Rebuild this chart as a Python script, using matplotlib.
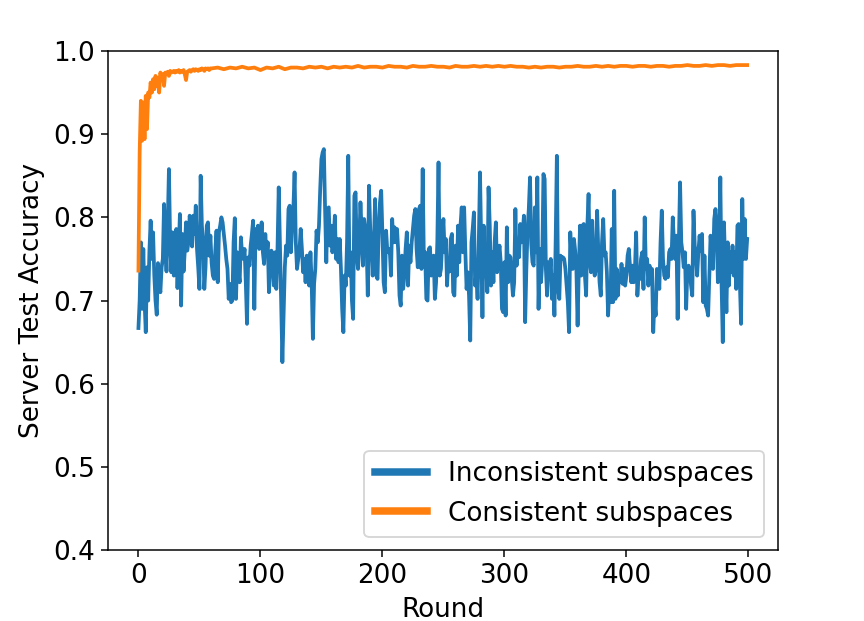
import matplotlib
matplotlib.use("Agg")
import matplotlib.pyplot as plt

# server test accuracy per round
inconsistent_acc = [
    0.667, 0.700, 0.770, 0.690, 0.762, 0.700, 0.662, 0.740, 0.700, 0.760,
    0.796, 0.750, 0.782, 0.730, 0.700, 0.683, 0.745, 0.720, 0.710, 0.740,
    0.750, 0.816, 0.770, 0.735, 0.790, 0.858, 0.770, 0.734, 0.782, 0.730,
    0.760, 0.786, 0.715, 0.760, 0.804, 0.694, 0.780, 0.735, 0.760, 0.794,
    0.760, 0.770, 0.802, 0.790, 0.765, 0.802, 0.780, 0.814, 0.762, 0.740,
    0.714, 0.850, 0.790, 0.770, 0.714, 0.740, 0.790, 0.794, 0.754, 0.778,
    0.745, 0.730, 0.726, 0.760, 0.784, 0.722, 0.782, 0.790, 0.800, 0.794,
    0.780, 0.766, 0.750, 0.738, 0.702, 0.720, 0.698, 0.700, 0.770, 0.799,
    0.702, 0.758, 0.735, 0.722, 0.776, 0.755, 0.750, 0.762, 0.722, 0.672,
    0.752, 0.742, 0.766, 0.780, 0.796, 0.690, 0.786, 0.770, 0.790, 0.762,
    0.766, 0.794, 0.758, 0.744, 0.780, 0.755, 0.770, 0.710, 0.738, 0.760,
    0.754, 0.718, 0.758, 0.714, 0.762, 0.836, 0.770, 0.698, 0.626, 0.682,
    0.740, 0.766, 0.754, 0.810, 0.814, 0.758, 0.790, 0.810, 0.854, 0.770,
    0.738, 0.750, 0.760, 0.786, 0.762, 0.734, 0.750, 0.722, 0.754, 0.740,
    0.718, 0.758, 0.722, 0.654, 0.720, 0.738, 0.784, 0.770, 0.790, 0.834,
    0.870, 0.878, 0.882, 0.810, 0.746, 0.810, 0.812, 0.766, 0.790, 0.758,
    0.774, 0.802, 0.750, 0.774, 0.746, 0.774, 0.738, 0.690, 0.662, 0.730,
    0.718, 0.770, 0.874, 0.730, 0.758, 0.700, 0.678, 0.826, 0.830, 0.754,
    0.738, 0.770, 0.818, 0.782, 0.742, 0.798, 0.786, 0.770, 0.706, 0.838,
    0.786, 0.760, 0.730, 0.770, 0.822, 0.730, 0.726, 0.790, 0.818, 0.832,
    0.780, 0.722, 0.710, 0.784, 0.760, 0.758, 0.762, 0.730, 0.798, 0.770,
    0.788, 0.770, 0.786, 0.758, 0.706, 0.694, 0.754, 0.714, 0.730, 0.762,
    0.782, 0.718, 0.766, 0.746, 0.770, 0.786, 0.802, 0.810, 0.762, 0.740,
    0.810, 0.814, 0.738, 0.858, 0.746, 0.758, 0.702, 0.700, 0.762, 0.764,
    0.730, 0.738, 0.754, 0.702, 0.722, 0.770, 0.866, 0.730, 0.738, 0.770,
    0.798, 0.758, 0.774, 0.718, 0.750, 0.735, 0.774, 0.780, 0.710, 0.706,
    0.766, 0.730, 0.790, 0.746, 0.790, 0.812, 0.758, 0.812, 0.758, 0.714,
    0.734, 0.706, 0.652, 0.770, 0.786, 0.806, 0.718, 0.734, 0.702, 0.770,
    0.854, 0.770, 0.680, 0.790, 0.738, 0.746, 0.710, 0.836, 0.790, 0.718,
    0.758, 0.722, 0.770, 0.794, 0.734, 0.754, 0.766, 0.746, 0.690, 0.686,
    0.746, 0.682, 0.788, 0.722, 0.754, 0.752, 0.726, 0.706, 0.722, 0.810,
    0.742, 0.770, 0.752, 0.792, 0.770, 0.780, 0.802, 0.674, 0.738, 0.786,
    0.810, 0.848, 0.768, 0.746, 0.742, 0.812, 0.758, 0.848, 0.690, 0.762,
    0.722, 0.746, 0.852, 0.846, 0.738, 0.706, 0.746, 0.730, 0.750, 0.702,
    0.730, 0.682, 0.770, 0.874, 0.714, 0.702, 0.754, 0.750, 0.752, 0.750,
    0.738, 0.718, 0.698, 0.662, 0.782, 0.750, 0.738, 0.774, 0.760, 0.738,
    0.670, 0.738, 0.790, 0.730, 0.790, 0.792, 0.730, 0.706, 0.790, 0.828,
    0.746, 0.734, 0.796, 0.746, 0.730, 0.738, 0.808, 0.758, 0.722, 0.706,
    0.770, 0.798, 0.754, 0.758, 0.734, 0.682, 0.714, 0.698, 0.786, 0.698,
    0.832, 0.702, 0.738, 0.706, 0.730, 0.722, 0.744, 0.720, 0.738, 0.718,
    0.730, 0.754, 0.762, 0.740, 0.722, 0.742, 0.722, 0.738, 0.782, 0.706,
    0.730, 0.726, 0.750, 0.758, 0.714, 0.800, 0.738, 0.750, 0.718, 0.742,
    0.722, 0.738, 0.662, 0.700, 0.682, 0.738, 0.730, 0.714, 0.770, 0.808,
    0.750, 0.730, 0.726, 0.740, 0.728, 0.758, 0.762, 0.750, 0.800, 0.770,
    0.750, 0.778, 0.678, 0.770, 0.842, 0.770, 0.758, 0.740, 0.758, 0.690,
    0.738, 0.742, 0.734, 0.718, 0.706, 0.808, 0.766, 0.754, 0.730, 0.758,
    0.778, 0.760, 0.780, 0.698, 0.754, 0.694, 0.690, 0.682, 0.730, 0.778,
    0.756, 0.738, 0.798, 0.810, 0.790, 0.722, 0.758, 0.848, 0.722, 0.650,
    0.794, 0.738, 0.686, 0.770, 0.718, 0.758, 0.734, 0.766, 0.730, 0.758,
    0.714, 0.790, 0.792, 0.722, 0.672, 0.822, 0.750, 0.798, 0.750, 0.774,
]
inconsistent_rounds = list(range(len(inconsistent_acc)))

# consistent run: every round during the fast rise, then every 5th round on the plateau
consistent_rounds = list(range(60)) + list(range(60, 500, 5)) + [499]
consistent_acc = [
    0.736, 0.878, 0.940, 0.892, 0.938, 0.894, 0.946, 0.906, 0.950, 0.944,
    0.962, 0.950, 0.966, 0.954, 0.970, 0.958, 0.968, 0.950, 0.974, 0.966,
    0.972, 0.958, 0.974, 0.972, 0.975, 0.970, 0.976, 0.974, 0.975, 0.976,
    0.974, 0.976, 0.975, 0.977, 0.974, 0.976, 0.975, 0.977, 0.972, 0.965,
    0.975, 0.976, 0.977, 0.975, 0.977, 0.978, 0.976, 0.978, 0.977, 0.976,
    0.978, 0.977, 0.979, 0.978, 0.976, 0.979, 0.978, 0.979, 0.977, 0.979,
    # plateau, rounds 60..495 step 5
    0.979, 0.980, 0.978, 0.980, 0.979, 0.981, 0.979, 0.980, 0.977, 0.980,
    0.979, 0.981, 0.978, 0.980, 0.980, 0.979, 0.981, 0.980, 0.981, 0.979,
    0.981, 0.980, 0.981, 0.980, 0.982, 0.980, 0.981, 0.981, 0.980, 0.982,
    0.981, 0.981, 0.980, 0.982, 0.981, 0.981, 0.982, 0.981, 0.981, 0.980,
    0.982, 0.981, 0.981, 0.982, 0.981, 0.982, 0.981, 0.982, 0.981, 0.982,
    0.981, 0.981, 0.980, 0.981, 0.980, 0.981, 0.981, 0.980, 0.981, 0.981,
    0.982, 0.981, 0.981, 0.982, 0.981, 0.982, 0.981, 0.982, 0.982, 0.981,
    0.982, 0.982, 0.981, 0.982, 0.982, 0.981, 0.982, 0.982, 0.983, 0.982,
    0.982, 0.983, 0.982, 0.983, 0.983, 0.982, 0.983, 0.983,
    # round 499
    0.983,
]

plt.rcParams['font.size'] = 14

fig = plt.figure(figsize=(6.4, 4.6), dpi=135)
ax = fig.add_subplot(111)
fig.subplots_adjust(left=0.125, right=0.9, bottom=0.114, top=0.918)

ax.plot(inconsistent_rounds, inconsistent_acc, color='#1f77b4', lw=2, label='Inconsistent subspaces')
ax.plot(consistent_rounds, consistent_acc, color='#ff7f0e', lw=2, label='Consistent subspaces')
ax.set_ylim(0.4, 1.0)
ax.set_xlabel('Round')
ax.set_ylabel('Server Test Accuracy')
leg = ax.legend(loc='lower right')
for line in leg.get_lines():
    line.set_linewidth(4)

fig.savefig('out.png', dpi=135)
